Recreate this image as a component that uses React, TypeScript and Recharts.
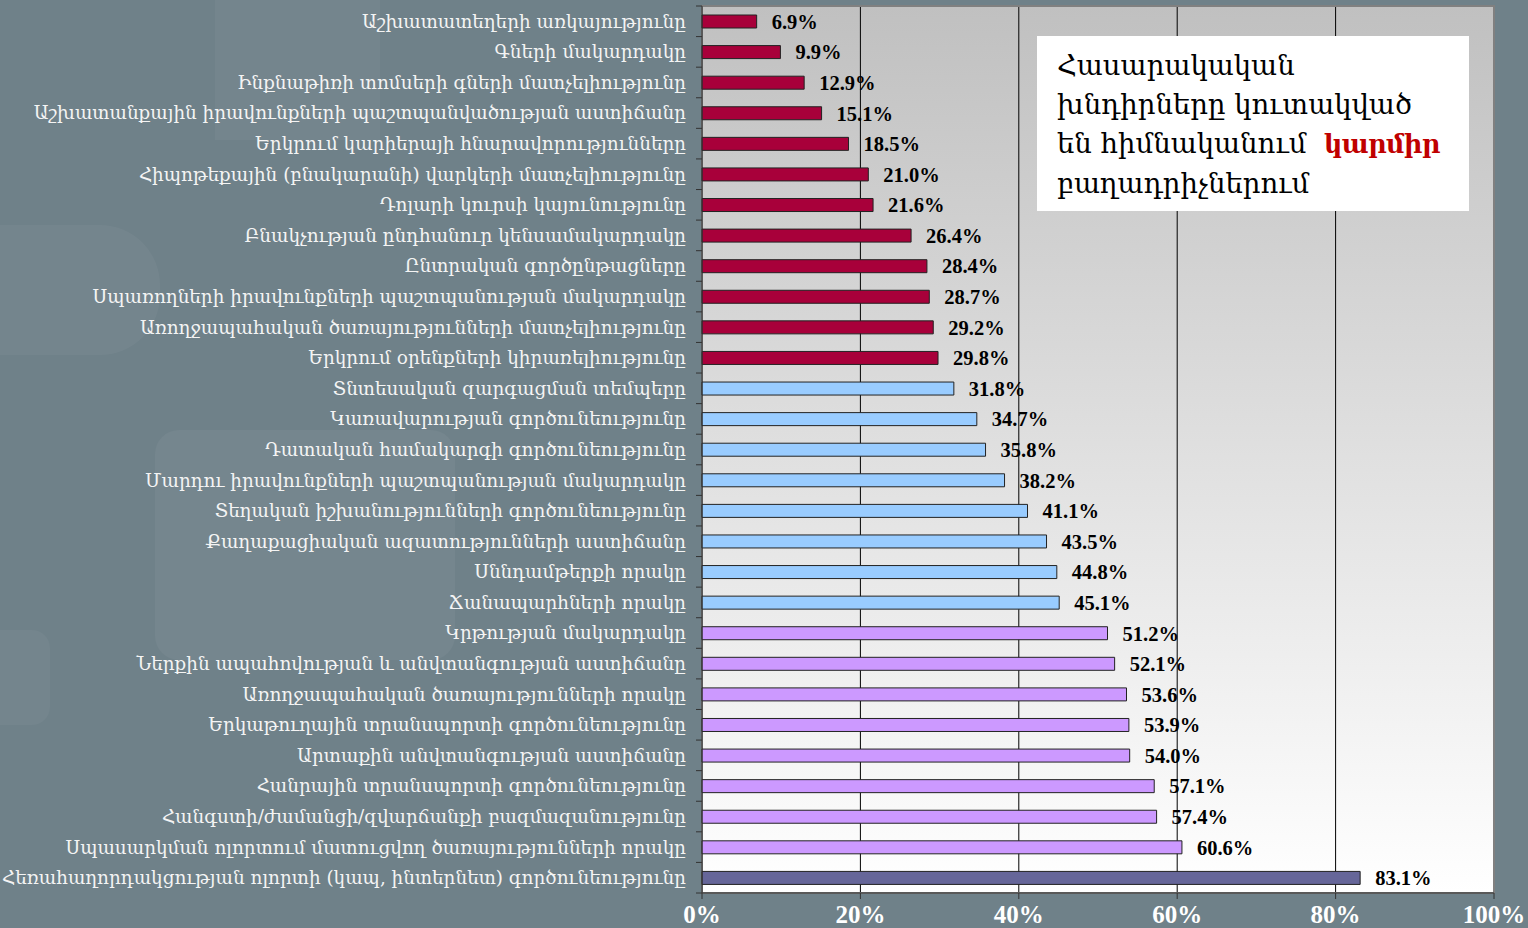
import React from 'react';
import {
  BarChart, Bar, XAxis, YAxis, CartesianGrid, LabelList, Cell, ReferenceArea,
} from 'recharts';

const categories: string[] = [
  'Աշխատատեղերի առկայությունը',
  'Գների մակարդակը',
  'Ինքնաթիռի տոմսերի գների մատչելիությունը',
  'Աշխատանքային իրավունքների պաշտպանվածության աստիճանը',
  'Երկրում կարիերայի հնարավորությունները',
  'Հիպոթեքային (բնակարանի) վարկերի մատչելիությունը',
  'Դոլարի կուրսի կայունությունը',
  'Բնակչության ընդհանուր կենսամակարդակը',
  'Ընտրական գործընթացները',
  'Սպառողների իրավունքների պաշտպանության մակարդակը',
  'Առողջապահական ծառայությունների մատչելիությունը',
  'Երկրում օրենքների կիրառելիությունը',
  'Տնտեսական զարգացման տեմպերը',
  'Կառավարության գործունեությունը',
  'Դատական համակարգի գործունեությունը',
  'Մարդու իրավունքների պաշտպանության մակարդակը',
  'Տեղական իշխանությունների գործունեությունը',
  'Քաղաքացիական ազատությունների աստիճանը',
  'Սննդամթերքի որակը',
  'Ճանապարհների որակը',
  'Կրթության մակարդակը',
  'Ներքին ապահովության և անվտանգության աստիճանը',
  'Առողջապահական ծառայությունների որակը',
  'Երկաթուղային տրանսպորտի գործունեությունը',
  'Արտաքին անվտանգության աստիճանը',
  'Հանրային տրանսպորտի գործունեությունը',
  'Հանգստի/ժամանցի/զվարճանքի բազմազանությունը',
  'Սպասարկման ոլորտում մատուցվող ծառայությունների որակը',
  'Հեռահաղորդակցության ոլորտի (կապ, ինտերնետ) գործունեությունը',
];

const values: number[] = [
  6.9, 9.9, 12.9, 15.1, 18.5, 21.0, 21.6, 26.4, 28.4, 28.7, 29.2, 29.8,
  31.8, 34.7, 35.8, 38.2, 41.1, 43.5, 44.8, 45.1,
  51.2, 52.1, 53.6, 53.9, 54.0, 57.1, 57.4, 60.6,
  83.1,
];

// group of each category: 0 = red, 1 = blue, 2 = violet, 3 = dark
const groups: number[] = [
  0, 0, 0, 0, 0, 0, 0, 0, 0, 0, 0, 0,
  1, 1, 1, 1, 1, 1, 1, 1,
  2, 2, 2, 2, 2, 2, 2, 2,
  3,
];

const xTicks: number[] = [0, 20, 40, 60, 80, 100];

const noteLines: string[] = ['Հասարակական', 'խնդիրները կուտակված', 'են հիմնականում'];
const noteRed = 'կարմիր';
const noteLast = 'բաղադրիչներում';

const groupColors = ['#a8003a', '#99ccff', '#cc99ff', '#666699'];

const data = categories.map((c, i) => ({ name: c, value: values[i], group: groups[i] }));

const W = 1528;
const H = 928;
const M = { top: 6, right: 34, bottom: 0, left: 0 };
const Y_W = 702;
const X_H = 35;
const plotH = H - M.top - M.bottom - X_H;
const step = plotH / categories.length;

const YTick = (props: any) => {
  const { x, y, payload, index } = props;
  const axisX = Y_W;
  return (
    <g>
      <line x1={axisX - 6} x2={axisX} y1={y - step / 2} y2={y - step / 2} stroke="#333" strokeWidth={1} />
      {index === categories.length - 1 && (
        <line x1={axisX - 6} x2={axisX} y1={y + step / 2} y2={y + step / 2} stroke="#333" strokeWidth={1} />
      )}
      <text
        x={x}
        y={y}
        dy="0.35em"
        textAnchor="end"
        fill="#f4f4f4"
        fontFamily="'DejaVu Serif', serif"
        fontSize={18.4}
      >
        {payload.value}
      </text>
    </g>
  );
};

export default function App() {
  return (
    <div
      style={{
        position: 'absolute',
        left: 0,
        top: 0,
        width: W,
        height: H,
        background: '#6f8189',
        overflow: 'hidden',
      }}
    >
      {/* subtle decorative background shapes */}
      <div style={{ position: 'absolute', left: 215, top: 0, width: 165, height: 140, background: 'rgba(255,255,255,0.035)' }} />
      <div style={{ position: 'absolute', left: -60, top: 225, width: 220, height: 130, borderRadius: 60, background: 'rgba(255,255,255,0.04)' }} />
      <div style={{ position: 'absolute', left: 155, top: 430, width: 300, height: 230, borderRadius: 24, background: 'rgba(255,255,255,0.045)' }} />
      <div style={{ position: 'absolute', left: -20, top: 630, width: 70, height: 95, borderRadius: 18, background: 'rgba(255,255,255,0.035)' }} />

      <div style={{ position: 'absolute', left: 0, top: 0 }}>
        <BarChart
          width={W}
          height={H}
          data={data}
          layout="vertical"
          margin={M}
          barSize={13}
        >
          <defs>
            <linearGradient id="plotGrad" x1="0" y1="0" x2="0" y2="1">
              <stop offset="0%" stopColor="#c0c0c0" />
              <stop offset="100%" stopColor="#ffffff" />
            </linearGradient>
          </defs>
          <CartesianGrid
            horizontal={false}
            vertical={true}
            stroke="#000"
            strokeWidth={1}
            fill="url(#plotGrad)"
            fillOpacity={1}
          />
          <XAxis
            type="number"
            domain={[0, 100]}
            ticks={xTicks}
            height={X_H}
            interval={0}
            tickFormatter={(v: number) => `${v}%`}
            axisLine={{ stroke: '#333', strokeWidth: 1 }}
            tickLine={{ stroke: '#333', strokeWidth: 1 }}
            tickSize={6}
            tickMargin={6}
            tick={{ fill: '#ffffff', fontFamily: "'Liberation Serif', serif", fontSize: 25, fontWeight: 'bold' }}
          />
          <YAxis
            type="category"
            dataKey="name"
            width={Y_W}
            interval={0}
            axisLine={{ stroke: '#333', strokeWidth: 1 }}
            tickLine={false}
            tickSize={0}
            tickMargin={16}
            tick={<YTick />}
          />
          <ReferenceArea x1={0} x2={100} fill="none" stroke="#808080" strokeWidth={2} ifOverflow="visible" />
          <Bar dataKey="value" isAnimationActive={false} stroke="#222" strokeWidth={1}>
            {data.map((d, i) => (
              <Cell key={i} fill={groupColors[d.group]} />
            ))}
            <LabelList
              dataKey="value"
              position="right"
              offset={15}
              formatter={(v: any) => `${Number(v).toFixed(1)}%`}
              fill="#000"
              fontFamily="'Liberation Serif', serif"
              fontSize={20.5}
              fontWeight="bold"
            />
          </Bar>
        </BarChart>
      </div>

      <div
        style={{
          position: 'absolute',
          left: 1037,
          top: 36,
          width: 432,
          height: 175,
          background: '#ffffff',
          boxSizing: 'border-box',
          padding: '10px 0 0 20px',
          fontFamily: "'DejaVu Serif', serif",
          fontSize: 27.5,
          lineHeight: '39px',
          color: '#000',
          whiteSpace: 'nowrap',
        }}
      >
        <div>{noteLines[0]}</div>
        <div>{noteLines[1]}</div>
        <div>
          {noteLines[2]}{'\u00a0\u00a0'}
          <span style={{ color: '#c00000', fontWeight: 'bold', fontSize: 25.5, letterSpacing: -0.5 }}>{noteRed}</span>
        </div>
        <div>{noteLast}</div>
      </div>
    </div>
  );
}
